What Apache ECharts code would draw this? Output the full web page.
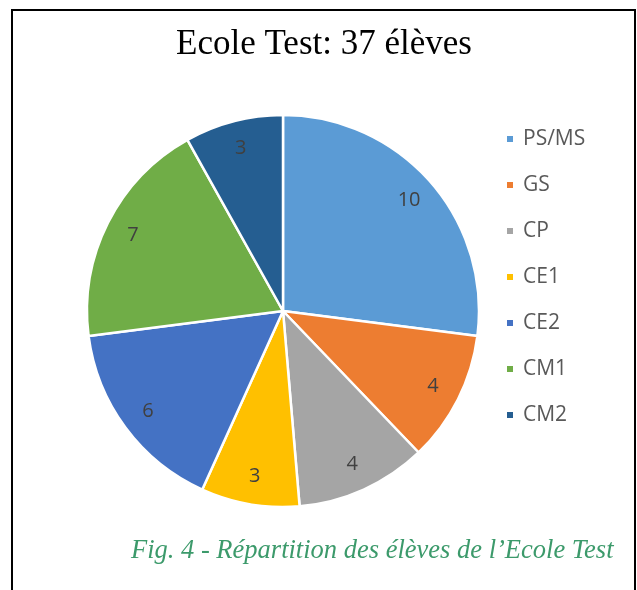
<!DOCTYPE html>
<html><head><meta charset="utf-8">
<script src="https://cdn.jsdelivr.net/npm/echarts@6/dist/echarts.min.js"></script>
<style>html,body{margin:0;padding:0;background:#fff}#c{width:637px;height:590px}</style>
</head><body><div id="c"></div>
<script>
const categories = ['PS/MS','GS','CP','CE1','CE2','CM1','CM2'];
const values = [10,4,4,3,6,7,3];
const colors = ['#5B9BD5','#ED7D31','#A5A5A5','#FFC000','#4472C4','#70AD47','#255E91'];
const titleText = 'Ecole Test: 37 élèves';
const captionText = 'Fig. 4 - Répartition des élèves de l\u2019Ecole Test';

const data = categories.map((n,i)=>({name:n,value:values[i],itemStyle:{color:colors[i]}}));
const labelData = categories.map((n,i)=>({name:n,value:values[i]}));
const chart = echarts.init(document.getElementById('c'));
chart.setOption({
  animation:false,
  graphic:[
    {type:'rect',shape:{x:12,y:10,width:623,height:600},style:{fill:'none',stroke:'#000',lineWidth:2},silent:true,z:100},
    {type:'text',left:176,top:27,style:{text:titleText,font:'35px "Liberation Serif"',fill:'#000'}},
    {type:'text',left:131,top:538,style:{text:captionText,font:'italic 26.5px "Liberation Serif"',fill:'#3C9A6B'}}
  ],
  legend:{orient:'vertical',left:500,top:123,icon:'rect',itemWidth:8,itemHeight:8,itemGap:24,
    data:categories,
    textStyle:{fontFamily:'Open Sans',fontSize:21,color:'#595959',lineHeight:22,padding:[0,0,0,4]}},
  series:[
    {type:'pie',center:[283,311],radius:[0,196],startAngle:90,clockwise:true,
     label:{show:false},labelLine:{show:false},
     itemStyle:{borderColor:'#fff',borderWidth:2.5},
     data:data},
    {type:'pie',center:[283,311],radius:[134,196],startAngle:90,clockwise:true,silent:true,
     legendHoverLink:false,
     itemStyle:{color:'rgba(0,0,0,0)'},
     label:{show:true,position:'inside',formatter:'{c}',fontFamily:'Open Sans',fontSize:20,color:'#404040'},
     labelLine:{show:false},
     data:labelData,z:5}
  ]
});
</script></body></html>
